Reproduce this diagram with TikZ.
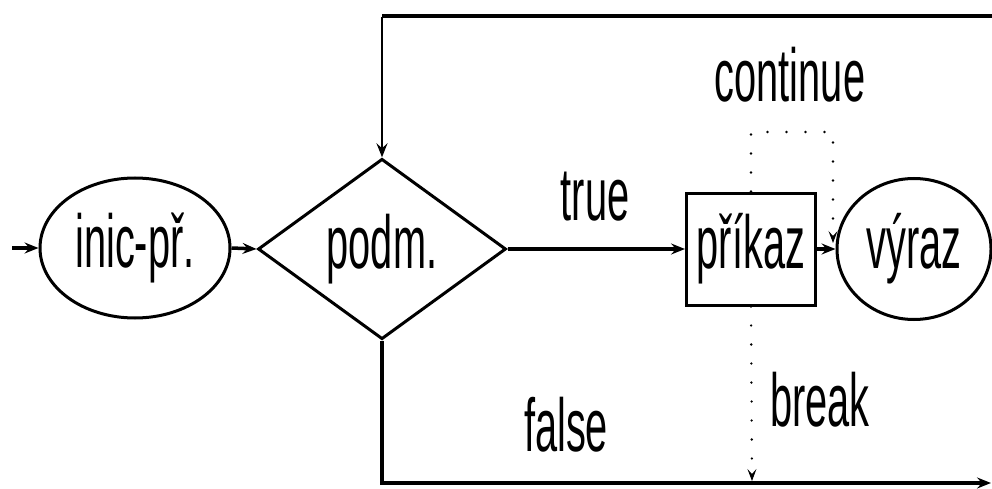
\documentclass[tikz,border=0pt]{standalone}
\usepackage{fontspec}
\setmainfont[FakeStretch=0.53]{Liberation Sans}
\usetikzlibrary{shapes.geometric,arrows.meta}
\begin{document}
\begin{tikzpicture}[x=1pt,y=-1pt,
  lbl/.style={font=\fontsize{75}{75}\selectfont, inner sep=0pt},
  shp/.style={draw, line width=3pt, inner sep=0pt, font=\fontsize{75}{75}\selectfont},
  conn/.style={line width=3.5pt, -{Stealth[length=14pt,width=11pt,inset=5pt]}},
  dotline/.style={line width=2.6pt, line cap=round, dash pattern=on 0pt off 19pt, -{Stealth[length=12pt,width=9pt,inset=5pt,line width=1pt]}}
]
\useasboundingbox (0,0) rectangle (992,489);
\node[shp, ellipse, minimum width=190pt, minimum height=140pt] (inic) at (135,248) {inic-př.};
\node[shp, diamond, minimum width=248pt, minimum height=178pt] (podm) at (382,249) {podm.};
\node[shp, rectangle, minimum width=129pt, minimum height=112pt] (prikaz) at (751,249) {příkaz};
\node[shp, ellipse, minimum width=154pt, minimum height=141pt] (vyraz) at (914,249) {výraz};
\coordinate (start) at (12,248);
\coordinate (topR) at (1000,16);
\coordinate (topL) at (382,16);
\coordinate (botL) at (382,483);
\coordinate (botR) at (991,483);
\coordinate (contA) at (752,132);
\coordinate (contB) at (833,132);
\coordinate (contC) at (833,243);
\coordinate (brk) at (752,481);
\draw[conn] (start) -- (inic.west);
\draw[conn] (inic.east) -- (podm.west);
\draw[conn] (podm.east) -- (prikaz.west);
\draw[conn] (prikaz.east) -- (vyraz.west);
\draw[line width=4pt] (topR) -- (topL);
\draw[conn, line width=2.5pt] ([yshift=-1pt]topL) -- (podm.north);
\draw[conn, line width=4pt] (podm.south) |- (botR);
\draw[dotline] (prikaz.north) |- (contB) -- (contC);
\draw[dotline] (prikaz.south) -- (brk);
\node[lbl] (ltrue) at (595,197) {true};
\node[lbl] (lfalse) at (566,425) {false};
\node[lbl] (lcont) at (790,75) {continue};
\node[lbl] (lbreak) at (820,400) {break};
\end{tikzpicture}
\end{document}
